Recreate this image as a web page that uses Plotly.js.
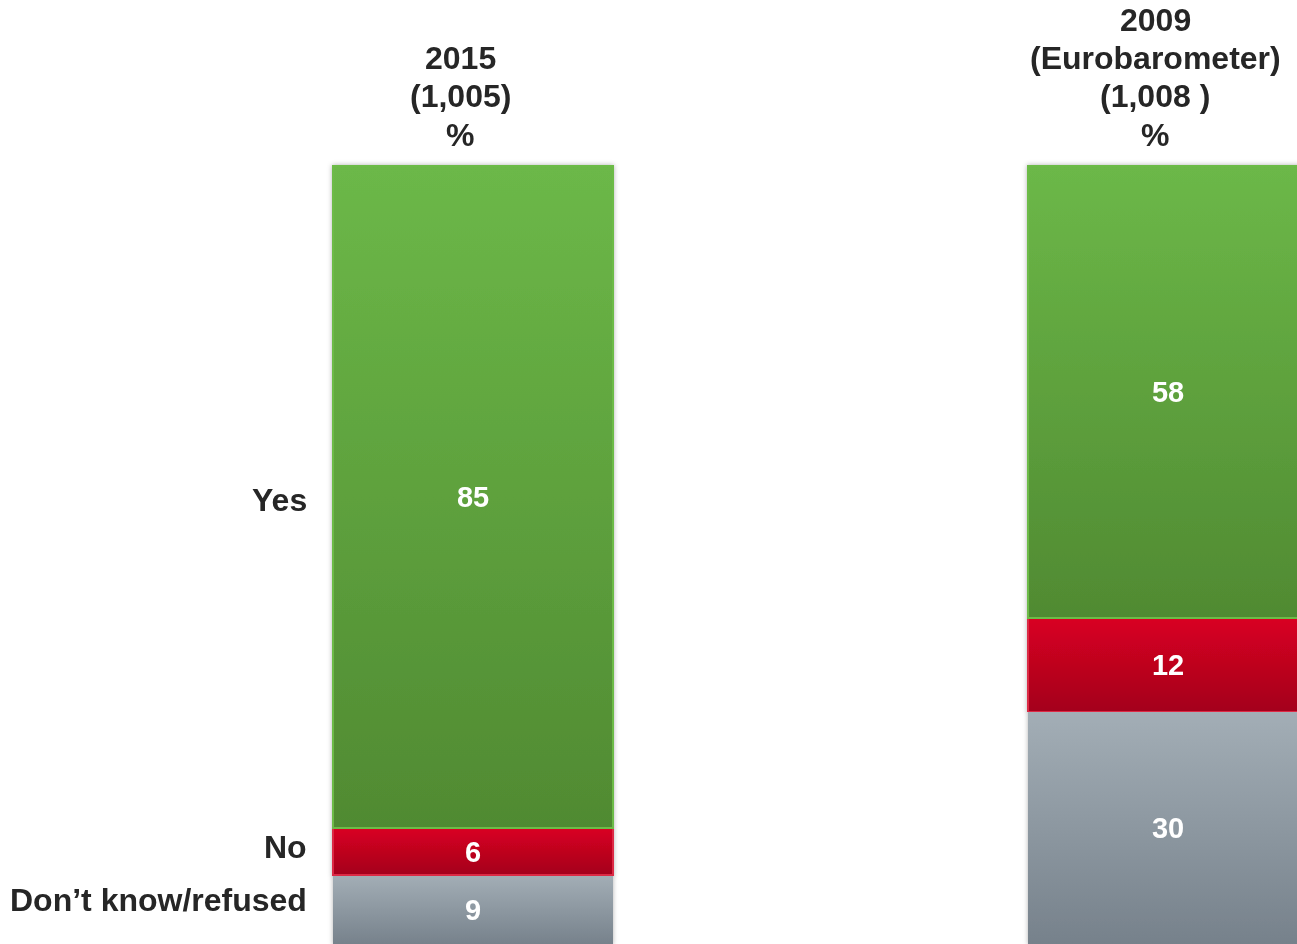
<!DOCTYPE html>
<html><head><meta charset="utf-8">
<script src="https://cdn.plot.ly/plotly-3.0.1.min.js"></script>
<style>html,body{margin:0;padding:0;background:#fff;overflow:hidden}</style>
</head><body><div id="chart" style="width:1297px;height:944px"></div>
<script>
// ---- data ----
const years = ['2015', '2009'];
const headerLines2015 = ['2015', '(1,005)', '%'];
const headerLines2009 = ['2009', '(Eurobarometer)', '(1,008 )', '%'];
const responses = ['Don’t know/refused', 'No', 'Yes'];
const dontKnow = [9, 30];
const no = [6, 12];
const yes = [85, 58];

// ---- styling ----
const FONT = 'Liberation Sans, Arial, sans-serif';
const DARK = '#262626';
const xIdx = [0, 1];
const BARW = 0.4029;
const seriesVals = [dontKnow, no, yes];
const fills = ['#8d98a2', '#be001e', '#5fa23f'];
const lines = ['rgba(160,171,180,0)', '#dc2a45', '#6cbb47'];
const gradIds = ['gDk', 'gNo', 'gYes'];
const gradStops = [['#a3aeb6', '#76818b'], ['#d90022', '#a4001b'], ['#6cb848', '#508a32']];

const traces = seriesVals.map((vals, k) => ({
  type: 'bar', x: xIdx, y: vals, name: responses[k], width: BARW,
  marker: {color: fills[k], line: {color: lines[k], width: 1.5}},
  text: vals.map(String), textposition: 'inside', insidetextanchor: 'middle',
  textangle: 0, constraintext: 'none', cliponaxis: true,
  insidetextfont: {family: FONT, size: 29, color: '#ffffff', weight: 'bold'},
  hoverinfo: 'skip'
}));

const H = 944, W = 1297;
const annotations = [];
function header(lines, xi) {
  const n = lines.length;
  lines.forEach((t, i) => {
    const pix = 135 - (n - 1 - i) * 38.5;
    annotations.push({xref: 'x', yref: 'paper', x: xi, y: 1 - pix / H, xanchor: 'center', yanchor: 'middle',
      xshift: -13, text: '<b>' + t + '</b>', showarrow: false,
      font: {family: FONT, size: 32, color: DARK}});
  });
}
header(headerLines2015, xIdx[0]);
header(headerLines2009, xIdx[1]);

// row labels next to first bar, at segment midpoints
const mids = [];
let acc = 0;
seriesVals.forEach(v => { mids.push(acc + v[0] / 2); acc += v[0]; });
const labelShift = [10, 5, -3];
responses.forEach((r, k) => {
  annotations.push({xref: 'x', yref: 'y', x: xIdx[0] - BARW / 2, y: mids[k], xanchor: 'right', yanchor: 'middle',
    xshift: -24, yshift: labelShift[k], text: '<b>' + r + '</b>', showarrow: false,
    font: {family: FONT, size: 32, color: DARK}});
});

const pxPerUnit = 7.79;
const layout = {
  width: W, height: H, margin: {l: 0, r: 0, t: 0, b: 0},
  paper_bgcolor: '#ffffff', plot_bgcolor: '#ffffff',
  barmode: 'stack', showlegend: false,
  xaxis: {range: [-473 / 695, (W - 473) / 695], visible: false, fixedrange: true},
  yaxis: {range: [(945 - H) / pxPerUnit, 945 / pxPerUnit], visible: false, fixedrange: true},
  annotations: annotations,
  font: {family: FONT}
};

Plotly.newPlot('chart', traces, layout, {displayModeBar: false, staticPlot: true}).then(gd => {
  const svg = gd.querySelector('.main-svg');
  const NS = 'http://www.w3.org/2000/svg';
  let defs = svg.querySelector('defs');
  if (!defs) { defs = document.createElementNS(NS, 'defs'); svg.insertBefore(defs, svg.firstChild); }
  gradIds.forEach((id, k) => {
    const g = document.createElementNS(NS, 'linearGradient');
    g.setAttribute('id', id); g.setAttribute('x1', '0'); g.setAttribute('y1', '0');
    g.setAttribute('x2', '0'); g.setAttribute('y2', '1');
    gradStops[k].forEach((c, i) => {
      const s = document.createElementNS(NS, 'stop');
      s.setAttribute('offset', i === 0 ? '0' : '1'); s.setAttribute('stop-color', c);
      g.appendChild(s);
    });
    defs.appendChild(g);
  });
  const f = document.createElementNS(NS, 'filter');
  f.setAttribute('id', 'barShadow'); f.setAttribute('x', '-10%'); f.setAttribute('y', '-10%');
  f.setAttribute('width', '120%'); f.setAttribute('height', '120%');
  const ds = document.createElementNS(NS, 'feDropShadow');
  ds.setAttribute('dx', '0'); ds.setAttribute('dy', '0'); ds.setAttribute('stdDeviation', '2.5');
  ds.setAttribute('flood-color', '#000'); ds.setAttribute('flood-opacity', '0.3');
  f.appendChild(ds); defs.appendChild(f);
  const barTraces = gd.querySelectorAll('.barlayer .trace.bars');
  barTraces.forEach((tr, k) => {
    tr.querySelectorAll('path').forEach(p => { p.style.fill = 'url(#' + gradIds[k] + ')'; });
  });
  const bl = gd.querySelector('.barlayer');
  if (bl) bl.setAttribute('filter', 'url(#barShadow)');
});
</script>
</body></html>
